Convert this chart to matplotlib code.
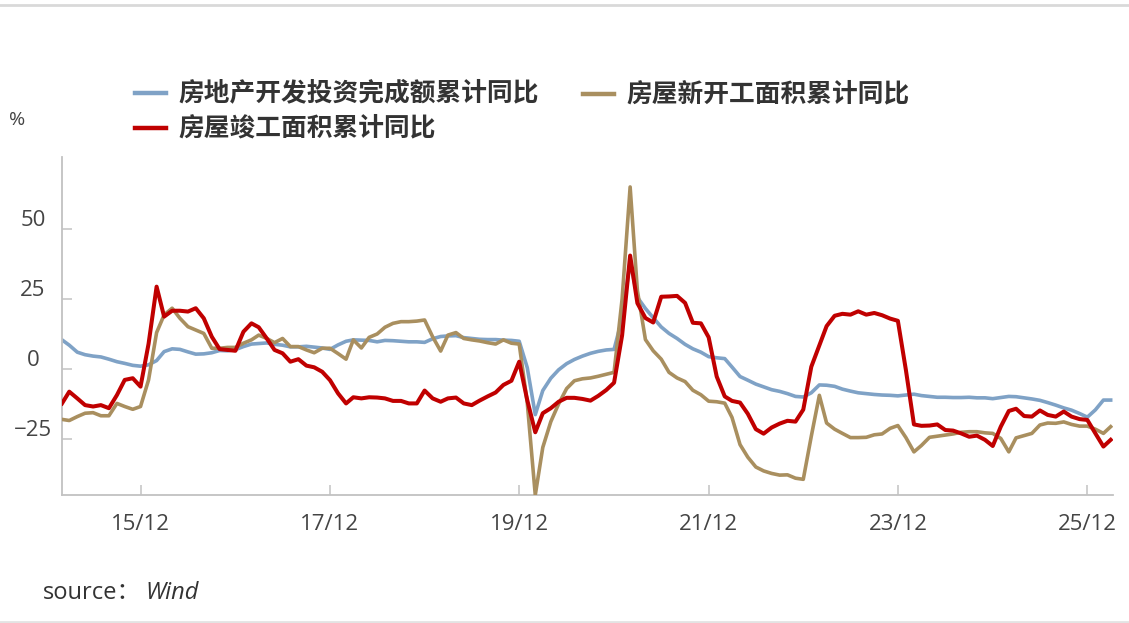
import matplotlib
matplotlib.use('Agg')
import matplotlib.pyplot as plt
from matplotlib.lines import Line2D
from matplotlib.transforms import ScaledTranslation
import pandas as pd

# monthly points, Feb 2015 .. Mar 2026
months = pd.date_range('2015-02-01', '2026-03-01', freq='MS')

# 房地产开发投资完成额累计同比
invest = [10.4, 8.5, 6.0, 5.1, 4.6, 4.3, 3.5, 2.6, 2.0, 1.3, 1.0,
          1.5, 3.0, 6.2, 7.2, 7.0, 6.1, 5.3, 5.4, 5.8, 6.6, 6.5, 6.9,
          8.0, 8.9, 9.1, 9.3, 8.8, 8.5, 7.9, 7.9, 8.1, 7.8, 7.5, 7.0,
          8.6, 9.9, 10.4, 10.3, 10.2, 9.7, 10.2, 10.1, 9.9, 9.7, 9.7, 9.5,
          10.8, 11.6, 11.8, 11.9, 11.2, 10.9, 10.6, 10.5, 10.5, 10.3, 10.2, 9.9,
          0.5, -16.3, -7.7, -3.3, -0.3, 1.9, 3.4, 4.6, 5.6, 6.3, 6.8, 7.0,
          18.0, 38.3, 25.6, 21.6, 18.3, 15.0, 12.7, 10.9, 8.8, 7.2, 6.0, 4.4,
          4.0, 3.7, 0.7, -2.7, -4.0, -5.4, -6.4, -7.4, -8.0, -8.8, -9.8, -10.0,
          -8.5, -5.7, -5.8, -6.2, -7.2, -7.9, -8.5, -8.8, -9.1, -9.3, -9.4, -9.6,
          -9.3, -9.0, -9.5, -9.8, -10.1, -10.1, -10.2, -10.2, -10.1, -10.3, -10.3, -10.6,
          -10.2, -9.8, -9.9, -10.3, -10.7, -11.2, -12.0, -12.9, -13.9, -14.7, -15.9, -17.2,
          -14.6, -11.1, -11.1]

# 房屋新开工面积累计同比
starts = [-18.0, -18.4, -17.0, -15.8, -15.6, -16.7, -16.7, -12.3, -13.4, -14.4, -13.4,
          -3.9, 13.0, 19.3, 21.7, 18.1, 15.1, 13.9, 12.7, 7.4, 7.4, 7.7, 7.7,
          9.2, 10.4, 12.1, 10.9, 9.4, 10.9, 8.0, 8.0, 6.8, 5.8, 7.4, 7.4,
          5.5, 3.5, 10.4, 7.5, 11.3, 12.5, 14.9, 16.3, 16.9, 16.9, 17.1, 17.5,
          11.5, 6.4, 12.1, 13.0, 10.9, 10.4, 10.0, 9.4, 8.9, 10.4, 9.2, 8.9,
          -12.0, -45.0, -28.0, -18.8, -12.5, -7.0, -4.2, -3.5, -3.2, -2.6, -1.9, -1.2,
          25.0, 65.0, 28.0, 10.5, 6.5, 3.5, -1.2, -3.2, -4.5, -7.6, -9.2, -11.5,
          -11.7, -12.2, -17.3, -27.0, -31.5, -35.0, -36.4, -37.3, -37.9, -37.8, -39.0, -39.4,
          -24.0, -9.4, -19.3, -21.5, -23.0, -24.5, -24.5, -24.4, -23.5, -23.2, -21.2, -20.2,
          -24.5, -29.6, -27.3, -24.4, -24.0, -23.6, -23.2, -22.6, -22.4, -22.4, -22.8, -23.0,
          -24.8, -29.6, -24.6, -23.8, -23.0, -20.0, -19.3, -19.4, -18.9, -19.8, -20.4, -20.4,
          -21.5, -23.0, -20.6]

# 房屋竣工面积累计同比
completed = [-12.3, -8.1, -10.5, -12.9, -13.4, -12.9, -14.0, -9.3, -3.9, -3.3, -6.3,
             9.0, 29.4, 18.7, 20.8, 20.8, 20.5, 21.7, 18.1, 11.5, 7.1, 6.8, 6.5,
             13.3, 16.3, 14.9, 10.9, 6.8, 5.6, 2.6, 3.5, 1.2, 0.6, -1.0, -4.0,
             -8.7, -12.3, -10.1, -10.5, -10.1, -10.2, -10.5, -11.4, -11.4, -12.3, -12.3, -7.7,
             -10.5, -11.7, -10.5, -10.2, -12.3, -12.9, -11.3, -9.8, -8.4, -5.7, -4.2, 2.6,
             -11.1, -22.6, -15.8, -14.0, -11.7, -10.3, -10.3, -10.7, -11.3, -9.6, -7.5, -4.9,
             12.0, 40.5, 23.5, 18.2, 16.6, 25.8, 25.9, 26.1, 23.6, 16.5, 16.3, 11.3,
             -2.7, -9.8, -11.4, -12.0, -16.0, -21.5, -23.1, -20.9, -19.5, -18.5, -18.8, -14.5,
             0.8, 8.4, 15.3, 19.0, 19.7, 19.4, 20.6, 19.4, 20.0, 19.2, 18.0, 17.2,
             -0.4, -19.8, -20.3, -20.2, -19.8, -21.8, -22.0, -23.0, -24.2, -23.8, -25.3, -27.5,
             -20.6, -15.0, -14.2, -16.8, -17.0, -14.8, -16.4, -17.0, -15.2, -17.0, -17.9, -18.2,
             -23.0, -27.7, -25.3]

names = ['房地产开发投资完成额累计同比', '房屋新开工面积累计同比', '房屋竣工面积累计同比']
colors = ['#7fa2c6', '#a98f5f', '#c00000']

tick_dates = pd.to_datetime(['2015-12-01', '2017-12-01', '2019-12-01',
                             '2021-12-01', '2023-12-01', '2025-12-01'])
tick_labels = ['15/12', '17/12', '19/12', '21/12', '23/12', '25/12']
y_ticks = [-25, 0, 25, 50]
y_labels = ['\u221225', '0', '25', '50']

W, H = 1129, 623
fig = plt.figure(figsize=(W / 100, H / 100), dpi=100)
ax = fig.add_axes([62 / W, 1 - 495 / H, 1051 / W, 338 / H])

ax.plot(months, invest, color=colors[0], lw=2.6, solid_joinstyle='round', zorder=2)
ax.plot(months, starts, color=colors[1], lw=2.6, solid_joinstyle='round', zorder=3)
ax.plot(months, completed, color=colors[2], lw=2.9, solid_joinstyle='round', zorder=4)

ax.set_xlim(months[0], months[-1] + pd.Timedelta(days=9))
ax.set_ylim(-45, 75.7)

for s in ['top', 'right']:
    ax.spines[s].set_visible(False)
for s in ['left', 'bottom']:
    ax.spines[s].set_color('#c2c2c2')
    ax.spines[s].set_linewidth(1.3)

ax.set_xticks(tick_dates)
ax.set_xticklabels(tick_labels)
ax.set_yticks(y_ticks)
ax.set_yticklabels(y_labels)
ax.tick_params(direction='in', length=7, width=1.1, color='#c2c2c2',
               labelsize=16, labelcolor='#444444')
ax.tick_params(axis='x', pad=14)
ax.tick_params(axis='y', pad=21)
for lab in ax.get_xticklabels() + ax.get_yticklabels():
    lab.set_family('Open Sans')
for lab in ax.get_yticklabels():
    lab.set_ha('center')
    lab.set_transform(lab.get_transform() + ScaledTranslation(0, 11 / 100, fig.dpi_scale_trans))

# legend, drawn by hand to match the layout
leg = [(135, 93, 0), (583, 94, 1), (135, 128, 2)]
for x0, y0, k in leg:
    yy = 1 - y0 / H
    fig.add_artist(Line2D([x0 / W, (x0 + 31) / W], [yy, yy], color=colors[k], lw=3.2))
    fig.text((x0 + 43) / W, yy, names[k], fontsize=18.5, fontweight='bold',
             family=['Noto Sans CJK SC'], color='#333333', va='center', ha='left')

fig.text(9 / W, 1 - 120 / H, '%', fontsize=14, color='#444444', va='center',
         family=['Open Sans'])
fig.text(43 / W, 1 - 593 / H, 'source：', fontsize=17, color='#333333', va='center',
         family=['Open Sans', 'Noto Sans CJK SC'])
fig.text(145 / W, 1 - 593 / H, 'Wind', fontsize=17, color='#333333', va='center',
         style='italic', family=['Open Sans'])

# thin frame lines at top and bottom
fig.add_artist(Line2D([0, 1], [1 - 4.5 / H] * 2, color='#d9d9d9', lw=2))
fig.add_artist(Line2D([0, 1], [1.5 / H] * 2, color='#e3e3e3', lw=2))

fig.savefig('out.png', dpi=100)
